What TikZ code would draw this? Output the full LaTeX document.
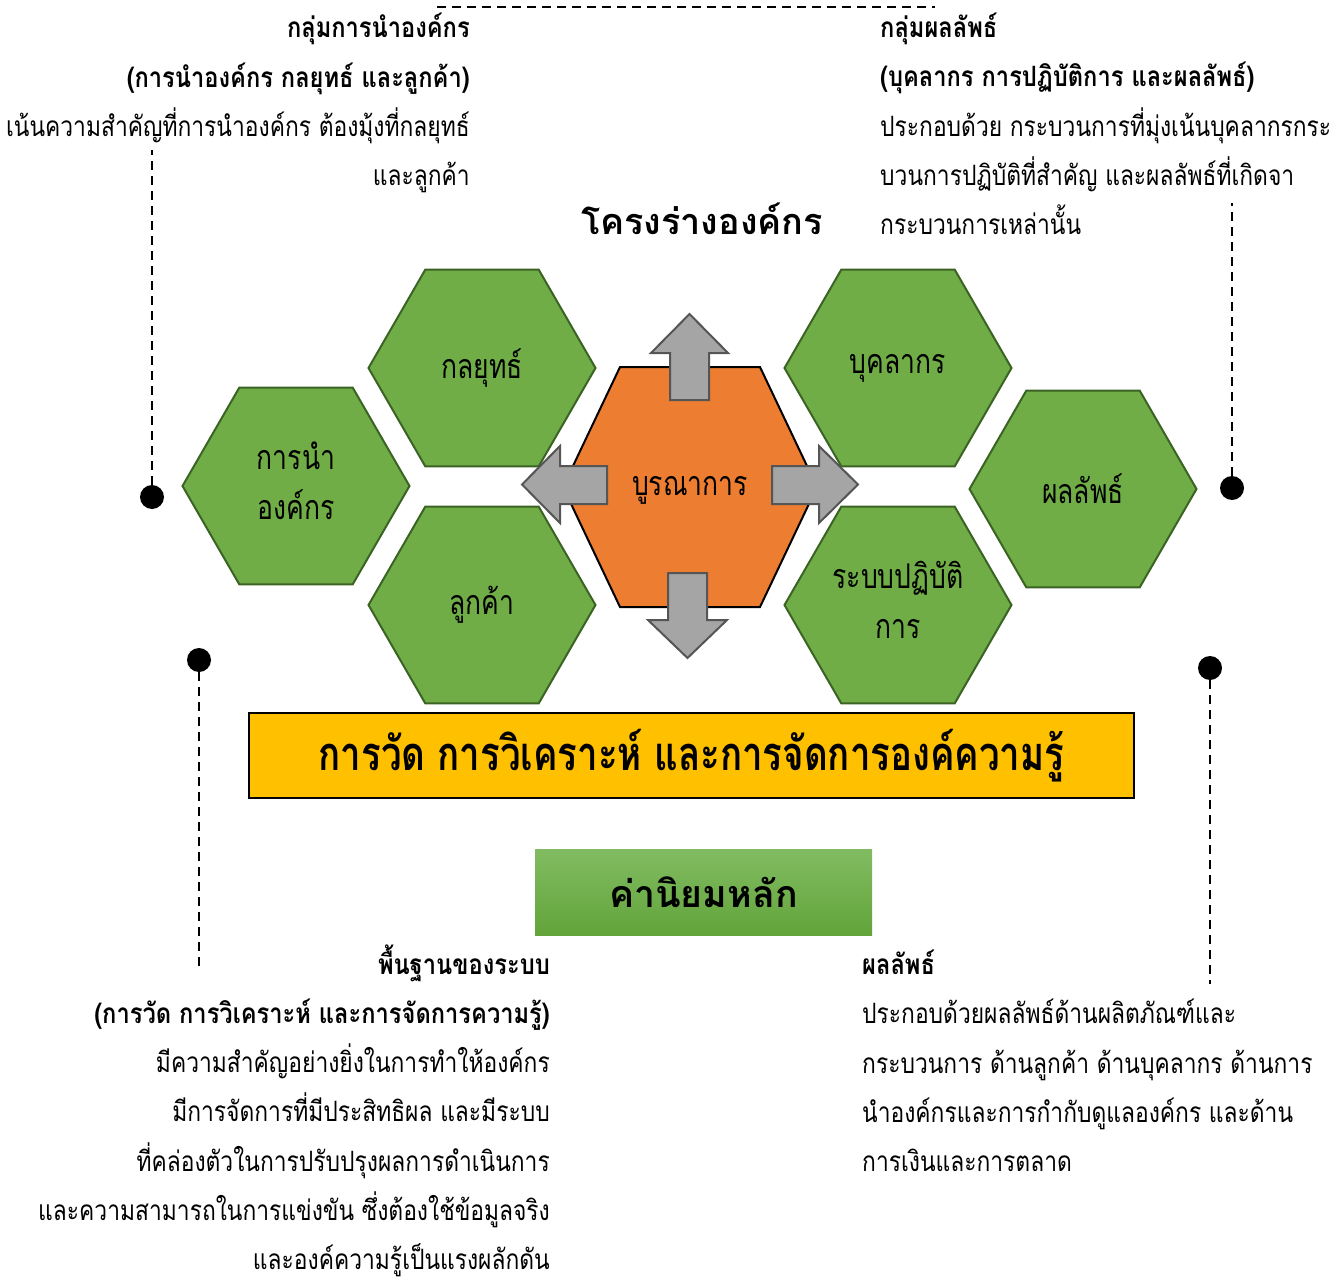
\documentclass[tikz,border=0pt]{standalone}
\usepackage{fontspec}
\newfontfamily\thaifont[Script=Thai]{Loma}
\newfontfamily\thainarrow[Script=Thai, FakeStretch=0.78]{Loma}
\newfontfamily\thaibody[Script=Thai, FakeStretch=0.815]{Loma}
\newfontfamily\thaihead[Script=Thai, FakeStretch=0.845]{Loma}
\usetikzlibrary{shapes.geometric}

\definecolor{hexgreen}{HTML}{70AD47}
\definecolor{hexline}{HTML}{3B6324}
\definecolor{coreorange}{HTML}{ED7D31}
\definecolor{arrowgray}{HTML}{A5A5A5}
\definecolor{arrowline}{HTML}{555555}
\definecolor{boxyellow}{HTML}{FFC000}
\definecolor{valuetop}{HTML}{82BC62}
\definecolor{valuebot}{HTML}{62A43A}

\newcommand{\lowpad}{\rule[-10pt]{0pt}{0pt}}

\tikzset{
  hexbox/.style={regular polygon, regular polygon sides=6, minimum size=227pt,
    inner sep=0pt, fill=hexgreen, draw=hexline, line width=2pt, align=center,
    font=\thainarrow\fontsize{34}{50}\selectfont},
  grayarrow/.style={fill=arrowgray, draw=arrowline, line width=2pt},
  dotmark/.style={circle, fill=black, minimum size=24pt, inner sep=0pt},
  leader/.style={dash pattern=on 9pt off 6pt, line width=1.5pt},
  bodytext/.style={inner sep=0pt, font=\thaibody\fontsize{28}{49.2}\selectfont}
}

\begin{document}
\begin{tikzpicture}[x=1pt,y=-1pt]
  \useasboundingbox (0,0) rectangle (1331,1284);

  % title
  \node[inner sep=0pt, font=\thaifont\bfseries\fontsize{36}{40}\selectfont] (title) at (702,219) {โครงร่างองค์กร};

  % hexagons
  \node[hexbox] (lead) at (296,486) {การนำ\\องค์กร\lowpad};
  \node[hexbox] (strat) at (482,368) {กลยุทธ์};
  \node[hexbox] (cust) at (482,605) {ลูกค้า};
  \node[hexbox] (work) at (898,368) {บุคลากร};
  \node[hexbox] (ops) at (898,605) {ระบบปฏิบัติ\\การ\lowpad};
  \node[hexbox] (res) at (1083,489) {ผลลัพธ์};

  \draw[fill=coreorange, line width=2pt] (563,487) -- (620,367) -- (760,367) -- (817,487) -- (760,607) -- (620,607) -- cycle;
  \node[font=\thainarrow\fontsize{34}{40}\selectfont] (core) at (690,490) {บูรณาการ};

  \draw[grayarrow] (670,400) -- (670,353) -- (651,353) -- (689.5,314) -- (728,353) -- (709,353) -- (709,400) -- cycle;
  \draw[grayarrow] (607,466) -- (560,466) -- (560,446) -- (522,484.5) -- (560,523) -- (560,504) -- (607,504) -- cycle;
  \draw[grayarrow] (772,466) -- (819,466) -- (819,446) -- (858,484.5) -- (819,523) -- (819,504) -- (772,504) -- cycle;
  \draw[grayarrow] (668,573) -- (668,620) -- (648,620) -- (687.5,658) -- (727,620) -- (707,620) -- (707,573) -- cycle;

  % bottom boxes
  \node[draw, line width=2.5pt, fill=boxyellow, minimum width=885pt, minimum height=85pt, inner sep=0pt,
    font=\thainarrow\bfseries\fontsize{47}{50}\selectfont] (measure) at (691.5,755.5) {การวัด การวิเคราะห์ และการจัดการองค์ความรู้};
  \node[top color=valuetop, bottom color=valuebot, minimum width=337pt, minimum height=86pt, inner sep=0pt,
    font=\thaifont\bfseries\fontsize{37.5}{42}\selectfont] (values) at (703.5,892) {ค่านิยมหลัก};

  % side notes
  \node[bodytext, anchor=base east, align=right] (noteTL) at (470,185.5) {\thaihead\bfseries กลุ่มการนำองค์กร\\
    \thaihead\bfseries (การนำองค์กร กลยุทธ์ และลูกค้า)\\
    เน้นความสำคัญที่การนำองค์กร ต้องมุ้งที่กลยุทธ์\\
    และลูกค้า};
  \node[bodytext, anchor=base west, align=left] (noteTR) at (880,234.5) {\thaihead\bfseries กลุ่มผลลัพธ์\\
    \thaihead\bfseries (บุคลากร การปฏิบัติการ และผลลัพธ์)\\
    ประกอบด้วย กระบวนการที่มุ่งเน้นบุคลากรกระ\\
    บวนการปฏิบัติที่สำคัญ และผลลัพธ์ที่เกิดจา\\
    กระบวนการเหล่านั้น};
  \node[bodytext, anchor=base east, align=right] (noteBL) at (550,1269.5) {\thaihead\bfseries พื้นฐานของระบบ\\
    \thaihead\bfseries (การวัด การวิเคราะห์ และการจัดการความรู้)\\
    มีความสำคัญอย่างยิ่งในการทำให้องค์กร\\
    มีการจัดการที่มีประสิทธิผล และมีระบบ\\
    ที่คล่องตัวในการปรับปรุงผลการดำเนินการ\\
    และความสามารถในการแข่งขัน ซึ่งต้องใช้ข้อมูลจริง\\
    และองค์ความรู้เป็นแรงผลักดัน};
  \node[bodytext, anchor=base west, align=left] (noteBR) at (862,1171.5) {\thaihead\bfseries ผลลัพธ์\\
    ประกอบด้วยผลลัพธ์ด้านผลิตภัณฑ์และ\\
    กระบวนการ ด้านลูกค้า ด้านบุคลากร ด้านการ\\
    นำองค์กรและการกำกับดูแลองค์กร และด้าน\\
    การเงินและการตลาด};

  % leaders
  \node[dotmark] (dotTL) at (152,497) {};
  \node[dotmark] (dotTR) at (1232,488) {};
  \node[dotmark] (dotBL) at (199,660) {};
  \node[dotmark] (dotBR) at (1210,668) {};
  \coordinate (endTL) at (152,150);
  \coordinate (endTR) at (1232,203);
  \coordinate (endBL) at (199,972);
  \coordinate (endBR) at (1210,984);
  \coordinate (topA) at (437,7);
  \coordinate (topB) at (935,7);
  \draw[leader] (dotTL) -- (endTL);
  \draw[leader] (dotTR) -- (endTR);
  \draw[leader] (dotBL) -- (endBL);
  \draw[leader] (dotBR) -- (endBR);
  \draw[leader] (topA) -- (topB);
\end{tikzpicture}
\end{document}
